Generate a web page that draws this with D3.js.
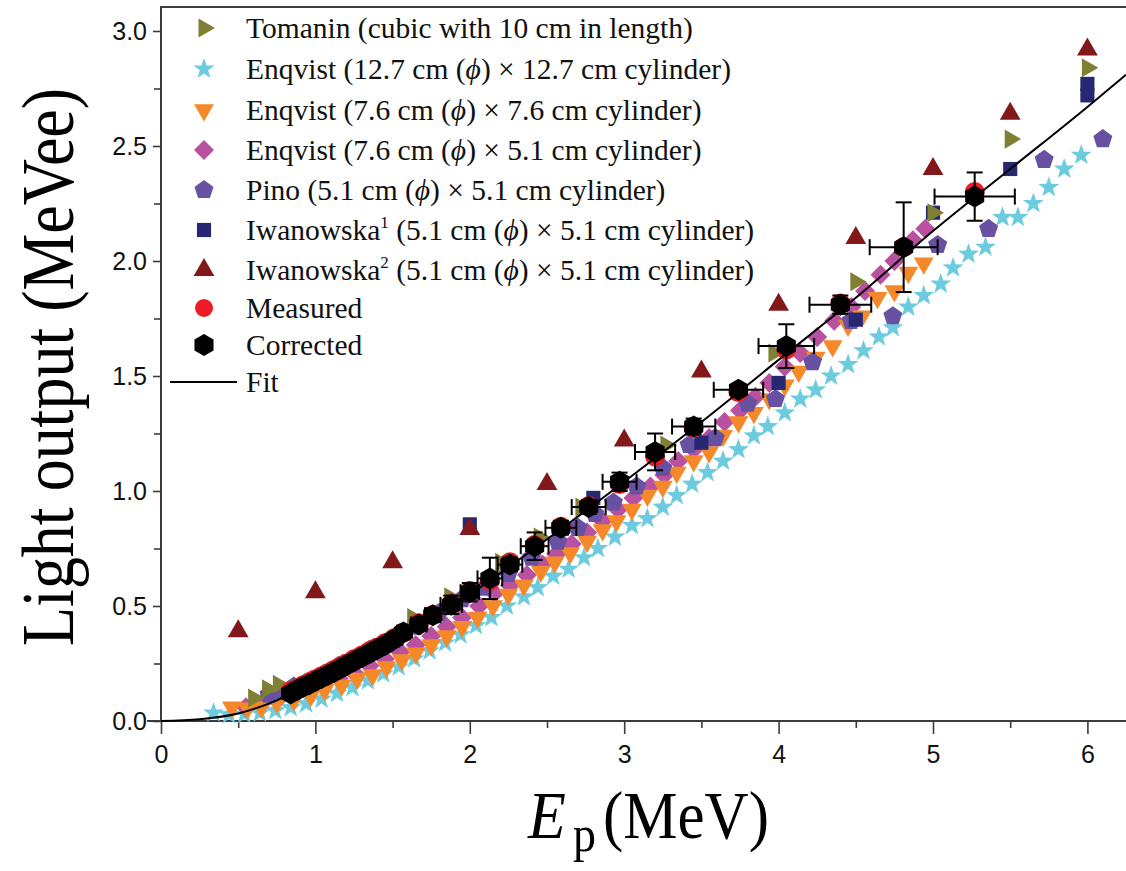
<!DOCTYPE html>
<html>
<head>
<meta charset="utf-8">
<script src="https://cdn.jsdelivr.net/npm/d3@7"></script>
<style>
  body { margin: 0; background: #ffffff; }
  svg { display: block; }
</style>
</head>
<body>
<svg id="chart" width="1126" height="871"></svg>
<script>
// ---- Data: proton energy E_p (MeV) vs light output (MeVee) ----
const tomanin = [[0.60,0.10],[0.69,0.14],[0.76,0.16],[1.63,0.45],[1.87,0.54],[2.20,0.69],[2.45,0.80],
  [2.72,0.93],[3.27,1.20],[3.97,1.60],[4.50,1.91],[5.00,2.21],[5.50,2.53],[6.00,2.84]];

const enqvist127 = [[0.34,0.035],[0.44,0.028],[0.54,0.030],[0.64,0.035],[0.74,0.045],[0.84,0.058],
  [0.94,0.075],[1.04,0.095],[1.14,0.12],[1.24,0.145],[1.34,0.175],[1.44,0.205],[1.54,0.235],[1.64,0.27],
  [1.74,0.305],[1.84,0.34],[1.94,0.375],[2.04,0.415],[2.14,0.45],[2.24,0.50],[2.35,0.54],[2.44,0.58],
  [2.54,0.63],[2.64,0.66],[2.74,0.71],[2.83,0.75],[2.94,0.80],[3.05,0.85],[3.15,0.88],[3.25,0.93],
  [3.34,0.98],[3.44,1.03],[3.54,1.08],[3.64,1.13],[3.74,1.18],[3.84,1.24],[3.93,1.28],[4.04,1.34],
  [4.14,1.40],[4.24,1.44],[4.34,1.50],[4.45,1.55],[4.55,1.61],[4.65,1.67],[4.74,1.71],[4.84,1.80],
  [4.94,1.85],[5.05,1.90],[5.13,1.97],[5.23,2.03],[5.34,2.06],[5.45,2.19],[5.55,2.19],[5.65,2.25],
  [5.75,2.32],[5.85,2.40],[5.96,2.46]];

const enqvist76 = [[0.46,0.060],[0.56,0.055],[0.65,0.060],[0.75,0.080],[0.86,0.090],[0.97,0.11],
  [1.06,0.135],[1.17,0.155],[1.27,0.185],[1.37,0.20],[1.46,0.235],[1.56,0.265],[1.65,0.295],[1.75,0.33],
  [1.85,0.37],[1.95,0.41],[2.05,0.45],[2.15,0.50],[2.25,0.55],[2.35,0.59],[2.46,0.65],[2.55,0.69],
  [2.65,0.73],[2.76,0.78],[2.86,0.83],[2.95,0.87],[3.05,0.92],[3.15,0.98],[3.25,1.02],[3.34,1.08],
  [3.45,1.13],[3.55,1.17],[3.64,1.24],[3.74,1.30],[3.84,1.34],[3.94,1.40],[4.04,1.46],[4.13,1.52],
  [4.24,1.58],[4.35,1.63],[4.45,1.72],[4.54,1.76],[4.64,1.84],[4.75,1.87],[4.84,1.95],[4.94,1.99]];

const enqvist51 = [[0.55,0.060],[0.65,0.075],[0.75,0.090],[0.85,0.11],[0.95,0.135],[1.05,0.16],
  [1.15,0.185],[1.25,0.21],[1.35,0.24],[1.45,0.27],[1.55,0.30],[1.65,0.33],[1.75,0.37],[1.85,0.41],
  [1.95,0.45],[2.06,0.50],[2.16,0.555],[2.26,0.59],[2.37,0.635],[2.47,0.68],[2.56,0.725],[2.66,0.77],
  [2.76,0.82],[2.86,0.87],[2.96,0.92],[3.06,0.97],[3.17,1.02],[3.26,1.07],[3.35,1.13],[3.45,1.18],
  [3.55,1.23],[3.65,1.30],[3.75,1.35],[3.85,1.41],[3.94,1.47],[4.04,1.54],[4.14,1.60],[4.25,1.67],
  [4.36,1.74],[4.47,1.80],[4.56,1.87],[4.66,1.94],[4.75,2.00],[4.87,2.09],[4.95,2.14]];

const pino = [[0.70,0.115],[0.78,0.13],[0.86,0.15],[0.95,0.17],[1.05,0.20],[1.15,0.24],[1.25,0.27],
  [1.35,0.31],[1.45,0.34],[1.55,0.38],[1.65,0.41],[1.80,0.47],[1.95,0.53],[2.10,0.58],[2.25,0.64],
  [2.40,0.71],[2.57,0.78],[2.70,0.84],[2.81,0.90],[2.93,0.95],[3.08,1.02],[3.25,1.10],[3.42,1.20],
  [3.59,1.23],[3.80,1.38],[3.98,1.40],[4.22,1.56],[4.47,1.74],[4.74,1.76],[5.03,2.07],[5.36,2.14],
  [5.72,2.44],[6.10,2.53]];

const iwanowska1 = [[2.00,0.855],[2.80,0.97],[3.50,1.21],[4.00,1.47],[4.50,1.745],[5.00,2.21],
  [5.50,2.40],[6.00,2.72],[6.00,2.77]];

const iwanowska2 = [[0.50,0.39],[1.00,0.56],[1.50,0.69],[2.00,0.835],[2.50,1.03],[3.00,1.22],
  [3.50,1.52],[4.00,1.81],[4.50,2.10],[5.00,2.40],[5.50,2.64],[6.00,2.92]];

const measured = [[0.84,0.13],[0.88,0.14],[0.92,0.155],[0.96,0.168],[1.00,0.182],[1.04,0.195],
  [1.08,0.208],[1.12,0.222],[1.16,0.236],[1.20,0.25],[1.25,0.268],[1.30,0.285],[1.35,0.303],[1.40,0.32],
  [1.45,0.338],[1.51,0.36],[1.57,0.385],[1.67,0.425],[1.76,0.46],[1.88,0.51],[2.00,0.565],[2.13,0.61],
  [2.26,0.69],[2.42,0.765],[2.59,0.845],[2.77,0.935],[2.97,1.03],[3.20,1.15],[3.45,1.275],[3.74,1.43],
  [4.05,1.615],[4.40,1.815],[4.81,2.06],[5.27,2.30]];

// corrected points: [E, L, dE, dL]
const corrected = [[0.84,0.12,0.02,0.01],[0.88,0.135,0.02,0.01],[0.92,0.148,0.02,0.01],[0.96,0.16,0.02,0.01],
  [1.00,0.174,0.02,0.01],[1.04,0.187,0.02,0.01],[1.08,0.20,0.02,0.01],[1.12,0.213,0.02,0.01],
  [1.16,0.227,0.02,0.01],[1.20,0.242,0.02,0.01],[1.25,0.26,0.03,0.01],[1.30,0.277,0.03,0.01],
  [1.35,0.295,0.03,0.01],[1.40,0.313,0.03,0.01],[1.45,0.33,0.03,0.015],[1.51,0.355,0.03,0.015],
  [1.57,0.385,0.04,0.02],[1.67,0.42,0.05,0.02],[1.76,0.46,0.05,0.03],[1.88,0.505,0.07,0.04],
  [2.00,0.56,0.06,0.04],[2.13,0.62,0.08,0.09],[2.26,0.68,0.08,0.03],[2.42,0.76,0.09,0.06],
  [2.59,0.84,0.10,0.03],[2.77,0.93,0.11,0.03],[2.97,1.04,0.11,0.04],[3.20,1.17,0.13,0.08],
  [3.45,1.28,0.14,0.035],[3.74,1.44,0.16,0.02],[4.05,1.63,0.18,0.095],[4.40,1.81,0.20,0.04],
  [4.81,2.06,0.22,0.195],[5.27,2.28,0.26,0.105]];

// fitted response curve
const fitCurve = [[0,0],[0.25,0.008],[0.5,0.033],[0.75,0.09],[1.0,0.175],[1.25,0.26],[1.5,0.345],
  [1.75,0.44],[2.0,0.55],[2.5,0.79],[3.0,1.04],[3.5,1.30],[4.0,1.57],[4.5,1.84],[5.0,2.13],
  [5.5,2.40],[6.0,2.67],[6.25,2.81]];

const xTicks = [0, 1, 2, 3, 4, 5, 6];
const xMinorTicks = [0.5, 1.5, 2.5, 3.5, 4.5, 5.5];
const yTicks = [0, 0.5, 1.0, 1.5, 2.0, 2.5, 3.0];
const yMinorTicks = [0.25, 0.75, 1.25, 1.75, 2.25, 2.75];

// ---- Layout ----
const svg = d3.select("#chart");
const x = d3.scaleLinear().domain([0, 6.25]).range([161, 1126]);
const y = d3.scaleLinear().domain([0, 3.1]).range([721, 8]);
const axisColor = "#3c3c3c";
const tickFont = "'Liberation Sans', Arial, sans-serif";
const serif = "'Liberation Serif', 'Times New Roman', serif";

// ---- Marker shapes ----
function poly(n, r, rot) {
  const pts = d3.range(n).map(i => {
    const a = rot + i * 2 * Math.PI / n;
    return [(r * Math.sin(a)).toFixed(2), (-r * Math.cos(a)).toFixed(2)];
  });
  return "M" + pts.map(p => p.join(",")).join("L") + "Z";
}
function star(ro, ri) {
  const pts = d3.range(10).map(i => {
    const a = i * Math.PI / 5;
    const r = i % 2 ? ri : ro;
    return [(r * Math.sin(a)).toFixed(2), (-r * Math.cos(a)).toFixed(2)];
  });
  return "M" + pts.map(p => p.join(",")).join("L") + "Z";
}
const shapes = {
  right: poly(3, 11, Math.PI / 2),
  star: star(11, 4.4),
  down: poly(3, 11.5, Math.PI),
  diamond: poly(4, 10, 0),
  pentagon: poly(5, 10, 0),
  square: poly(4, 10, Math.PI / 4),
  up: poly(3, 12, 0),
  hexagon: poly(6, 11, 0)
};

const series = [
  { key: "enqvist127", data: enqvist127, shape: "star", color: "#6ccbde" },
  { key: "enqvist51", data: enqvist51, shape: "diamond", color: "#b8519f" },
  { key: "enqvist76", data: enqvist76, shape: "down", color: "#f5892a" },
  { key: "pino", data: pino, shape: "pentagon", color: "#6851a2" },
  { key: "iwanowska1", data: iwanowska1, shape: "square", color: "#262874" },
  { key: "tomanin", data: tomanin, shape: "right", color: "#7f8033" },
  { key: "iwanowska2", data: iwanowska2, shape: "up", color: "#82181a" }
];

// ---- Frame and axes ----
svg.append("line").attr("x1", 161).attr("x2", 1126).attr("y1", 7).attr("y2", 7)
  .attr("stroke", axisColor).attr("stroke-width", 2);

const gx = svg.append("g").attr("transform", "translate(0,721)");
gx.call(d3.axisBottom(x).tickValues(xMinorTicks).tickSize(7).tickFormat(""));
gx.call(g => g.select(".domain").remove());
const gxMaj = svg.append("g").attr("transform", "translate(0,721)");
gxMaj.call(d3.axisBottom(x).tickValues(xTicks).tickSize(13).tickPadding(11).tickFormat(d3.format("d")));
gxMaj.select(".domain").remove();
gxMaj.selectAll("text").attr("font-family", tickFont).attr("font-size", 25).attr("fill", "#111");

const gy = svg.append("g").attr("transform", "translate(161,0)");
gy.call(d3.axisLeft(y).tickValues(yMinorTicks).tickSize(7).tickFormat(""));
gy.select(".domain").remove();
const gyMaj = svg.append("g").attr("transform", "translate(161,0)");
gyMaj.call(d3.axisLeft(y).tickValues(yTicks).tickSize(8).tickPadding(6).tickFormat(d3.format(".1f")));
gyMaj.select(".domain").remove();
gyMaj.selectAll("text").attr("font-family", tickFont).attr("font-size", 25).attr("fill", "#111");
svg.selectAll(".tick line").attr("stroke", axisColor).attr("stroke-width", 1.6);

svg.append("line").attr("x1", 147).attr("x2", 1126).attr("y1", 721).attr("y2", 721)
  .attr("stroke", axisColor).attr("stroke-width", 2);
svg.append("line").attr("x1", 161).attr("x2", 161).attr("y1", 6).attr("y2", 722)
  .attr("stroke", axisColor).attr("stroke-width", 2);

// ---- Scatter series ----
const plot = svg.append("g");
series.forEach(s => {
  plot.append("g").attr("class", s.key)
    .selectAll("path").data(s.data).join("path")
    .attr("d", shapes[s.shape])
    .attr("transform", d => `translate(${x(d[0])},${y(d[1])})`)
    .attr("fill", s.color);
});

plot.append("g").attr("class", "measured")
  .selectAll("circle").data(measured).join("circle")
  .attr("cx", d => x(d[0])).attr("cy", d => y(d[1])).attr("r", 10)
  .attr("fill", "#ec1c24");

plot.append("g").attr("class", "corrected")
  .selectAll("path").data(corrected).join("path")
  .attr("d", shapes.hexagon)
  .attr("transform", d => `translate(${x(d[0])},${y(d[1])})`)
  .attr("fill", "#000");

// fit curve
plot.append("path").datum(fitCurve)
  .attr("d", d3.line().x(d => x(d[0])).y(d => y(d[1])).curve(d3.curveMonotoneX))
  .attr("fill", "none").attr("stroke", "#000").attr("stroke-width", 2);

// error bars on corrected points
const eb = plot.append("g").attr("class", "errorbars").attr("stroke", "#000").attr("stroke-width", 2);
const cap = 8;
corrected.forEach(d => {
  const cx = x(d[0]), cy = y(d[1]);
  const x0 = x(d[0] - d[2]), x1 = x(d[0] + d[2]);
  const y0 = y(d[1] - d[3]), y1 = y(d[1] + d[3]);
  eb.append("line").attr("x1", x0).attr("x2", x1).attr("y1", cy).attr("y2", cy);
  eb.append("line").attr("x1", x0).attr("x2", x0).attr("y1", cy - cap).attr("y2", cy + cap);
  eb.append("line").attr("x1", x1).attr("x2", x1).attr("y1", cy - cap).attr("y2", cy + cap);
  eb.append("line").attr("x1", cx).attr("x2", cx).attr("y1", y0).attr("y2", y1);
  eb.append("line").attr("x1", cx - cap).attr("x2", cx + cap).attr("y1", y0).attr("y2", y0);
  eb.append("line").attr("x1", cx - cap).attr("x2", cx + cap).attr("y1", y1).attr("y2", y1);
});

// ---- Axis titles ----
svg.append("text")
  .attr("transform", "translate(73,367) rotate(-90) scale(1,1.15)")
  .attr("text-anchor", "middle")
  .attr("font-family", serif).attr("font-size", 64).attr("fill", "#000")
  .text("Light output (MeVee)");

const xt = svg.append("g").attr("transform", "translate(0,838) scale(1,1.1)");
xt.append("text").attr("x", 528).attr("y", 0)
  .attr("font-family", serif).attr("font-size", 62).attr("font-style", "italic").attr("fill", "#000")
  .text("E");
xt.append("text").attr("x", 573).attr("y", 12)
  .attr("font-family", serif).attr("font-size", 46).attr("fill", "#000")
  .text("p");
xt.append("text").attr("x", 603).attr("y", 0)
  .attr("font-family", serif).attr("font-size", 61).attr("fill", "#000")
  .text("(MeV)");

// ---- Legend ----
const legendRows = [
  { shape: "right", color: "#7f8033", parts: [["Tomanin (cubic with 10 cm in length)"]] },
  { shape: "star", color: "#6ccbde", parts: [["Enqvist (12.7 cm ("], ["ϕ", "i"], [") × 12.7 cm cylinder)"]] },
  { shape: "down", color: "#f5892a", parts: [["Enqvist (7.6 cm ("], ["ϕ", "i"], [") × 7.6 cm cylinder)"]] },
  { shape: "diamond", color: "#b8519f", parts: [["Enqvist (7.6 cm ("], ["ϕ", "i"], [") × 5.1 cm cylinder)"]] },
  { shape: "pentagon", color: "#6851a2", parts: [["Pino (5.1 cm ("], ["ϕ", "i"], [") × 5.1 cm cylinder)"]] },
  { shape: "square", color: "#262874", parts: [["Iwanowska"], ["1", "sup"], [" (5.1 cm ("], ["ϕ", "i"], [") × 5.1 cm cylinder)"]] },
  { shape: "up", color: "#82181a", parts: [["Iwanowska"], ["2", "sup"], [" (5.1 cm ("], ["ϕ", "i"], [") × 5.1 cm cylinder)"]] },
  { shape: "circle", color: "#ec1c24", parts: [["Measured"]] },
  { shape: "hexagon", color: "#000", parts: [["Corrected"]] },
  { shape: "line", color: "#000", parts: [["Fit"]] }
];
const legendY = [28, 69, 110, 150, 190, 230, 270, 308, 345, 382];
const legend = svg.append("g").attr("class", "legend");
legendRows.forEach((row, i) => {
  const cy = legendY[i];
  if (row.shape === "line") {
    legend.append("line").attr("x1", 170).attr("x2", 237).attr("y1", cy).attr("y2", cy)
      .attr("stroke", "#000").attr("stroke-width", 2);
  } else if (row.shape === "circle") {
    legend.append("circle").attr("cx", 204).attr("cy", cy).attr("r", 9).attr("fill", row.color);
  } else {
    legend.append("path").attr("d", shapes[row.shape])
      .attr("transform", `translate(204,${cy})`).attr("fill", row.color);
  }
  const t = legend.append("text").attr("x", 246).attr("y", cy + 10)
    .attr("font-family", serif).attr("font-size", 29.5).attr("fill", "#111");
  let raised = false;
  row.parts.forEach(p => {
    const ts = t.append("tspan").text(p[0]);
    if (p[1] === "i") ts.attr("font-style", "italic");
    if (p[1] === "sup") {
      ts.attr("font-size", 17).attr("dy", -12);
      raised = true;
    } else if (raised) {
      ts.attr("dy", 12);
      raised = false;
    }
  });
});
</script>
</body>
</html>
